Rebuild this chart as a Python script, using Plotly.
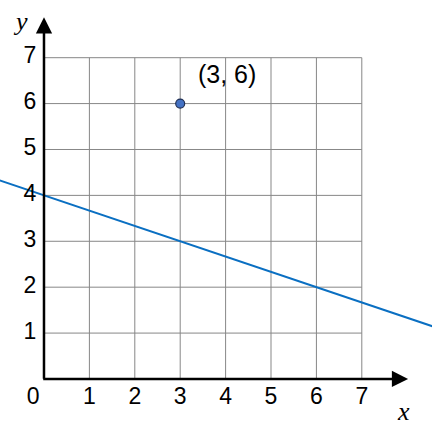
import plotly.graph_objects as go

# grid / ticks
x_ticks = [0, 1, 2, 3, 4, 5, 6, 7]
y_ticks = [1, 2, 3, 4, 5, 6, 7]
x_tick_labels = ["0", "1", "2", "3", "4", "5", "6", "7"]
y_tick_labels = ["1", "2", "3", "4", "5", "6", "7"]

# the line y = 4 - x/3
line_x = [-1.0, 9.0]
line_y = [4.3333, 1.0]

# the point
point_x = [3]
point_y = [6]
point_label = "(3, 6)"

GRID = "#878787"
FONT = "Liberation Sans"

fig = go.Figure()

# gridlines
shapes = []
for v in x_ticks[1:]:
    shapes.append(dict(type="line", xref="x", yref="y", x0=v, x1=v, y0=0, y1=max(y_ticks),
                       line=dict(color=GRID, width=1), layer="below"))
for v in y_ticks:
    shapes.append(dict(type="line", xref="x", yref="y", x0=0, x1=max(x_ticks), y0=v, y1=v,
                       line=dict(color=GRID, width=1), layer="below"))

fig.add_trace(go.Scatter(x=line_x, y=line_y, mode="lines",
                         line=dict(color="#0a6fc2", width=2), hoverinfo="skip"))
fig.add_trace(go.Scatter(x=point_x, y=point_y, mode="markers",
                         marker=dict(color="#4472c4", size=9, line=dict(color="#1f2f55", width=1.2)),
                         hoverinfo="skip"))

# tick labels
fig.add_trace(go.Scatter(x=[t + (-0.24 if t == 0 else 0) for t in x_ticks], y=[-0.41] * len(x_ticks),
                         mode="text", text=x_tick_labels,
                         textfont=dict(family=FONT, size=23, color="black"), hoverinfo="skip"))
fig.add_trace(go.Scatter(x=[-0.31] * len(y_ticks), y=y_ticks, mode="text", text=y_tick_labels,
                         textfont=dict(family=FONT, size=23, color="black"), hoverinfo="skip"))

annotations = [
    # x axis arrow
    dict(x=8.02, y=0, ax=-0.05, ay=0, xref="x", yref="y", axref="x", ayref="y",
         showarrow=True, arrowhead=2, arrowsize=1.3, arrowwidth=2.5, arrowcolor="black", text=""),
    # y axis arrow
    dict(x=0, y=7.88, ax=0, ay=-0.03, xref="x", yref="y", axref="x", ayref="y",
         showarrow=True, arrowhead=2, arrowsize=1.3, arrowwidth=2.5, arrowcolor="black", text=""),
    dict(x=7.92, y=-0.7, xref="x", yref="y", text="x", showarrow=False,
         font=dict(family="Liberation Serif", size=26, color="black")),
    dict(x=-0.52, y=7.78, xref="x", yref="y", text="y", showarrow=False,
         font=dict(family="Liberation Serif", size=26, color="black")),
    dict(x=point_x[0] + 1.03, y=point_y[0] + 0.65, xref="x", yref="y", text=point_label, showarrow=False,
         font=dict(family=FONT, size=25, color="black")),
]
for a in annotations[2:4]:
    a["text"] = "<i>" + a["text"] + "</i>"

fig.update_layout(
    width=432, height=429, autosize=False,
    margin=dict(l=0, r=0, t=0, b=0),
    paper_bgcolor="white", plot_bgcolor="white",
    showlegend=False,
    shapes=shapes, annotations=annotations,
    xaxis=dict(range=[-0.969, 8.546], showgrid=False, zeroline=False, showticklabels=False, fixedrange=True),
    yaxis=dict(range=[-1.09, 8.257], showgrid=False, zeroline=False, showticklabels=False, fixedrange=True),
)

fig.write_html("out.html", config={"displayModeBar": False},
               post_script="document.body.style.margin='0';document.body.style.overflow='hidden';")
